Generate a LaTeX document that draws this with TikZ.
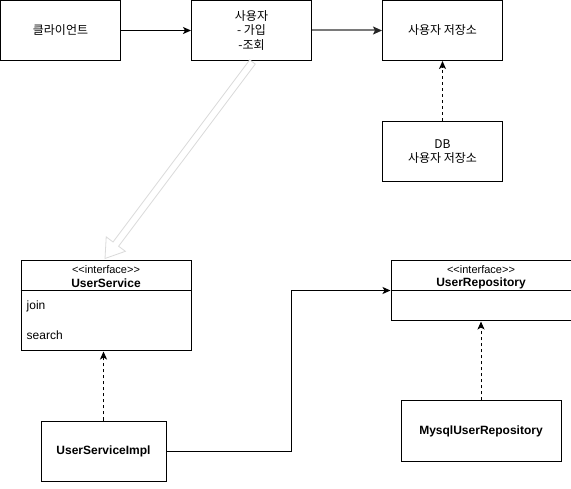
\documentclass[tikz,border=0pt]{standalone}
\usepackage{fontspec}
\setmainfont{Liberation Sans}[Ligatures=TeXOff]
\newfontfamily\korfont{Noto Sans CJK KR}
\usetikzlibrary{arrows.meta,positioning,calc}
\definecolor{hollowGray}{HTML}{DADADA}
\definecolor{lineGray}{HTML}{7A7A7A}
\tikzset{
  blok/.style={draw=black, line width=1pt, minimum width=120pt, minimum height=60pt, align=center, inner sep=0pt, font=\korfont\fontsize{12pt}{14.5pt}\selectfont},
  klasse/.style={draw=black, line width=1pt, anchor=north west, inner sep=0pt},
  impl/.style={draw=black, line width=1pt, anchor=north west, minimum height=60pt, inner sep=0pt, font=\bfseries\fontsize{12pt}{14pt}\selectfont},
  stereo/.style={font=\fontsize{11pt}{13pt}\selectfont},
  kname/.style={font=\bfseries\fontsize{12pt}{14pt}\selectfont},
  kmeth/.style={anchor=west, inner sep=0pt, font=\fontsize{12pt}{14pt}\selectfont},
  arrflow/.style={-{Stealth[length=8pt,width=7pt,inset=2pt]}, line width=1pt},
  arrdash/.style={arrflow, dash pattern=on 3pt off 3pt},
}

\begin{document}
\begin{tikzpicture}[x=1pt, y=-1pt]
\useasboundingbox (0,0) rectangle (571,489);

% top row
\node[blok] (klient) at (60.5,30.5) {클라이언트};
\node[blok, right=70pt of klient] (user) {사용자\\- 가입\\-조회};
\node[blok, right=70pt of user] (store) {사용자 저장소};
\node[blok, below=60pt of store] (db) {DB\\사용자 저장소};

% interfaces
\node[klasse, minimum width=170pt, minimum height=90pt] (usvc) at (20.5,260.5) {};
\draw[line width=1pt] ([yshift=-30pt]usvc.north west) -- ([yshift=-30pt]usvc.north east);
\node[stereo] at ([yshift=-9pt]usvc.north) {<<interface>>};
\node[kname] at ([yshift=-23pt]usvc.north) {UserService};
\node[kmeth] at ([xshift=6pt,yshift=-46pt]usvc.north west) {join};
\node[kmeth] at ([xshift=6pt,yshift=-75pt]usvc.north west) {search};

\node[klasse, minimum width=180pt, minimum height=60pt] (urepo) at (390.5,260.5) {};
\draw[line width=1pt] ([yshift=-30pt]urepo.north west) -- ([yshift=-30pt]urepo.north east);
\node[stereo] at ([yshift=-9pt]urepo.north) {<<interface>>};
\node[kname] at ([yshift=-23pt]urepo.north) {UserRepository};

% implementations
\node[impl, minimum width=125pt] (usImpl) at (40.5,420.5) {UserServiceImpl};
\node[impl, minimum width=160pt] (mysqlRepo) at (400.5,400.5) {MysqlUserRepository};

% connectors
\draw[arrflow] (klient) -- (user);
\draw[arrflow, draw=lineGray, line width=2pt, -{Stealth[length=9pt,width=8pt,inset=2pt,color=black!85]}] (user) -- (store);
\draw[arrdash] (db) -- (store);
\draw[arrdash] (usImpl.north) -- (usImpl.north |- usvc.south);
\draw[arrdash] (mysqlRepo) -- (mysqlRepo.north |- urepo.south);
\draw[arrflow] (usImpl.east) -- ++(125pt,0) |- ([yshift=-30pt]urepo.north west);

% hollow arrow
\coordinate (hTail) at ([xshift=1pt,yshift=-1pt]user.south);
\coordinate (hTip) at ([xshift=-1pt,yshift=2pt]usvc.north);
\coordinate (hBase) at ($(hTip)!18pt!(hTail)$);
\draw[hollowGray, line width=0.8pt, fill=white]
  ($(hTail)!3.5pt!90:(hTip)$) -- ($(hBase)!3.5pt!-90:(hTail)$) -- ($(hBase)!12pt!-90:(hTail)$)
  -- (hTip) -- ($(hBase)!12pt!90:(hTail)$) -- ($(hBase)!3.5pt!90:(hTail)$)
  -- ($(hTail)!3.5pt!-90:(hTip)$) -- cycle;
\end{tikzpicture}
\end{document}
